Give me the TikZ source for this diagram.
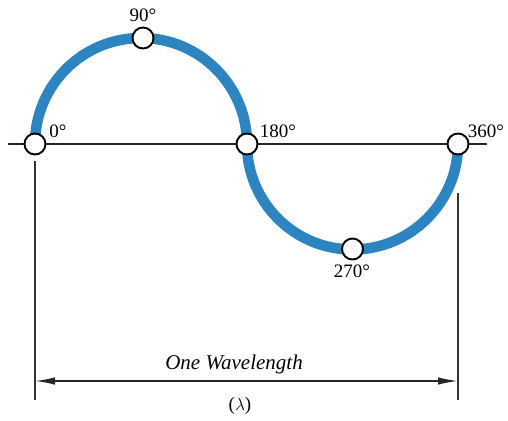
\documentclass[tikz,border=0pt]{standalone}
\usepackage{fontspec}
\setmainfont{Liberation Serif}
\usetikzlibrary{arrows.meta}
\definecolor{waveblue}{RGB}{44,132,192}
\tikzset{
  dot/.style={circle,draw=black,fill=white,line width=1.9pt,minimum size=21pt,inner sep=0pt},
  lbl/.style={font=\fontsize{19}{22}\selectfont,inner sep=0pt},
  guide/.style={draw=black!80,line width=1.3pt},
  wave/.style={draw=waveblue,line width=10.5pt},
}
\begin{document}
\begin{tikzpicture}[x=1pt,y=1pt]
\useasboundingbox (0,0) rectangle (508,-420);
% axis
\coordinate (axL) at (8,-144);
\coordinate (axR) at (487,-144);
\draw[line width=2pt,black!85] (axL) -- (axR);
% wave
\draw[wave] (35,-144) arc[start angle=180,end angle=0,radius=106];
\draw[wave] (247,-144) arc[start angle=180,end angle=360,radius=105.5];
% points
\node[dot] (p0) at (35,-144) {};
\node[dot] (p90) at (143,-38) {};
\node[dot] (p180) at (247,-144) {};
\node[dot] (p270) at (352.5,-249) {};
\node[dot] (p360) at (458,-144) {};
% labels
\node[lbl] (l0) at (58,-131) {0°};
\node[lbl] (l90) at (143,-15) {90°};
\node[lbl] (l180) at (278,-131) {180°};
\node[lbl] (l270) at (352,-271) {270°};
\node[lbl] (l360) at (486,-131) {360°};
% extension lines
\coordinate (vL1) at (35,-161);
\coordinate (vL2) at (35,-400);
\coordinate (vR1) at (458,-193);
\coordinate (vR2) at (458,-400);
\draw[guide] (vL1) -- (vL2);
\draw[guide] (vR1) -- (vR2);
% dimension arrow
\coordinate (aL) at (35,-381);
\coordinate (aR) at (458,-381);
\draw[line width=1.6pt,black!85,{Latex[length=20pt,width=7.5pt]}-{Latex[length=20pt,width=7.5pt]}] (aL) -- (aR);
\node[lbl,font=\fontsize{21}{24}\selectfont\itshape] (wl) at (234,-364) {One Wavelength};
\node[lbl] (lam) at (240,-406) {($\lambda$)};
\end{tikzpicture}
\end{document}
